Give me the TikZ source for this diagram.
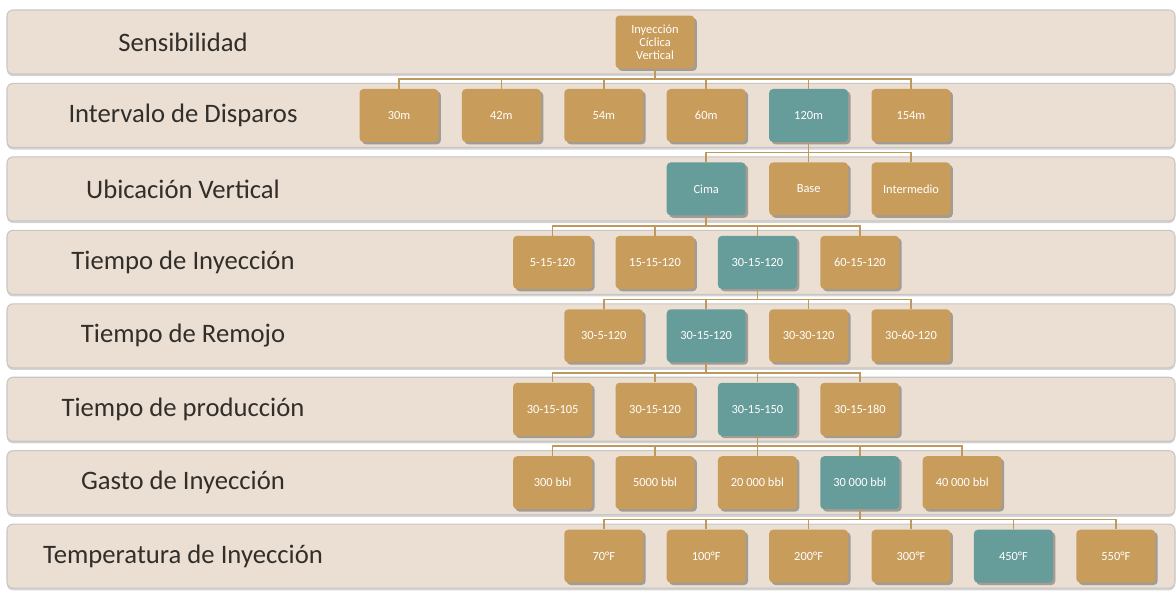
\documentclass[tikz,border=0pt]{standalone}
\usepackage{fontspec}
\setmainfont{Carlito}
\usetikzlibrary{shadows,calc}
\definecolor{bandfill}{RGB}{234,223,210}
\definecolor{bandline}{RGB}{200,198,194}
\definecolor{tan}{RGB}{200,157,92}
\definecolor{teal}{RGB}{102,156,153}
\definecolor{conncol}{RGB}{190,152,92}
\definecolor{labelcol}{RGB}{50,46,42}
\tikzset{
  band/.style={draw=bandline, line width=0.8pt, fill=bandfill, rounded corners=4.5pt,
    drop shadow={shadow xshift=0pt, shadow yshift=-1.6pt, opacity=0.35, fill=gray}},
  lbl/.style={text=labelcol, font=\fontsize{20}{24}\selectfont, anchor=center},
  box/.style={rectangle, rounded corners=3pt, minimum width=59.25pt, minimum height=39.75pt,
    inner sep=0pt, fill=tan, text=white, align=center,
    font=\fontsize{9.3}{9.8}\selectfont,
    drop shadow={shadow xshift=1.8pt, shadow yshift=-1.8pt, opacity=0.45, fill=black!70}},
  sel/.style={box, fill=teal},
  conn/.style={draw=conncol, line width=1.1pt},
}
\newcommand\linkto[2]{\draw[conn] (#1.south) -- ++(0,10.2) -| (#2.north);}
\begin{document}
\begin{tikzpicture}[x=0.75pt,y=-0.75pt]
\useasboundingbox (0,0) rectangle (1176,594);
% bands
\foreach \c/\t [count=\i] in {42/Sensibilidad,115.45/Intervalo de Disparos,188.9/Ubicación Vertical,262.35/Tiempo de Inyección,335.8/Tiempo de Remojo,409.25/Tiempo de producción,482.7/Gasto de Inyección,556.15/Temperatura de Inyección}{
  \path[band] (7,\c-32) rectangle (1175,\c+32);
  \node[lbl] (L\i) at (183,\c) {\t};
}
% row 1
\node[box] (r1) at (655,42) {Inyección\\Cíclica\\Vertical};
% row 2
\node[box] (a1) at (399,115.45) {30m};
\node[box] (a2) at (501.4,115.45) {42m};
\node[box] (a3) at (603.8,115.45) {54m};
\node[box] (a4) at (706.2,115.45) {60m};
\node[sel] (a5) at (808.6,115.45) {120m};
\node[box] (a6) at (911,115.45) {154m};
% row 3
\node[sel] (b1) at (706.2,188.9) {Cima};
\node[box] (b2) at (808.6,188.9) {Base};
\node[box] (b3) at (911,188.9) {Intermedio};
% row 4
\node[box] (c1) at (552.6,262.35) {5-15-120};
\node[box] (c2) at (655,262.35) {15-15-120};
\node[sel] (c3) at (757.4,262.35) {30-15-120};
\node[box] (c4) at (859.8,262.35) {60-15-120};
% row 5
\node[box] (d1) at (603.8,335.8) {30-5-120};
\node[sel] (d2) at (706.2,335.8) {30-15-120};
\node[box] (d3) at (808.6,335.8) {30-30-120};
\node[box] (d4) at (911,335.8) {30-60-120};
% row 6
\node[box] (e1) at (552.6,409.25) {30-15-105};
\node[box] (e2) at (655,409.25) {30-15-120};
\node[sel] (e3) at (757.4,409.25) {30-15-150};
\node[box] (e4) at (859.8,409.25) {30-15-180};
% row 7
\node[box] (f1) at (552.6,482.7) {300 bbl};
\node[box] (f2) at (655,482.7) {5000 bbl};
\node[box] (f3) at (757.4,482.7) {20 000 bbl};
\node[sel] (f4) at (859.8,482.7) {30 000 bbl};
\node[box] (f5) at (962.2,482.7) {40 000 bbl};
% row 8
\node[box] (g1) at (603.8,556.15) {70°F};
\node[box] (g2) at (706.2,556.15) {100°F};
\node[box] (g3) at (808.6,556.15) {200°F};
\node[box] (g4) at (911,556.15) {300°F};
\node[sel] (g5) at (1013.4,556.15) {450°F};
\node[box] (g6) at (1115.8,556.15) {550°F};
% connectors
\foreach \n in {a1,a2,a3,a4,a5,a6}{\linkto{r1}{\n}}
\foreach \n in {b1,b2,b3}{\linkto{a5}{\n}}
\foreach \n in {c1,c2,c3,c4}{\linkto{b1}{\n}}
\foreach \n in {d1,d2,d3,d4}{\linkto{c3}{\n}}
\foreach \n in {e1,e2,e3,e4}{\linkto{d2}{\n}}
\foreach \n in {f1,f2,f3,f4,f5}{\linkto{e3}{\n}}
\foreach \n in {g1,g2,g3,g4,g5,g6}{\linkto{f4}{\n}}
\end{tikzpicture}
\end{document}
